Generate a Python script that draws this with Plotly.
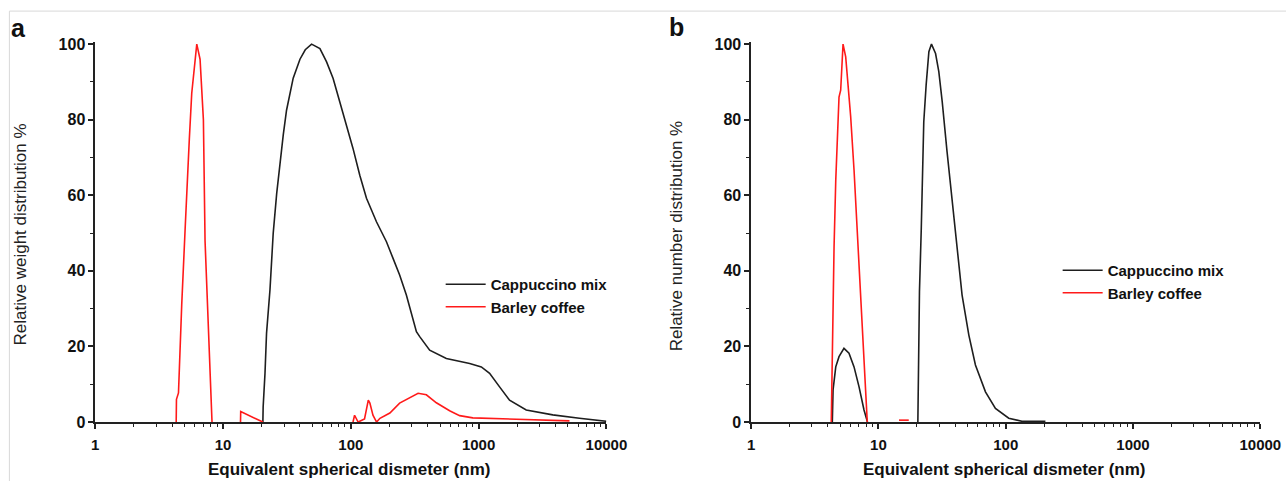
import plotly.graph_objects as go

# Figure canvas (pixels). Target positions below are given in the reference picture's
# pixel frame and mapped onto the canvas with a measured linear correction.
W, H = 1307, 490
SX, OX = 0.9825, 3.6
SY, OY = 0.9695, 5.9

# ---------------- data ----------------
# Panel a: relative weight distribution
weight_cap_x = [20.5, 20.6, 21.3, 21.9, 23.3, 24.7, 26.3, 27.9, 29.6, 31.4, 35.4, 40, 44, 49.3,
                57.3, 64.6, 72.7, 82, 92.5, 104, 117.5, 132.6, 158.7, 190, 214, 241, 272, 307,
                326, 346, 414, 559, 851, 1050, 1219, 1459, 1746, 2358, 3805, 6150, 8820, 10000]
weight_cap_y = [0, 4, 12.9, 23.5, 35, 50, 60.5, 69, 76, 82.5, 91, 96, 98.5, 100,
                98.8, 95.3, 90.9, 84.7, 78.6, 72.4, 65.3, 59.2, 53, 47.7, 43.3, 38.9, 33.6, 27.4,
                23.9, 22.6, 19, 16.8, 15.5, 14.6, 12.9, 9.3, 5.8, 3.2, 1.9, 1, 0.3, 0.2]

# None marks a stretch where the curve lies on the axis (hidden in the original)
weight_bar_x = [4.3, 4.32, 4.48, 4.61, 4.75, 5.05, 5.2, 5.45, 5.69, 6.23, 6.61, 7.02, 7.23,
                7.68, 7.92, 8.2, None, 13.7, 13.75, 20.5, None, 104, 107, 114, 128, 137, 141, 149,
                159, 169, 202, 241, 289, 336, 390, 467, 593, 711, 900, 1150, 2100, 5140]
weight_bar_y = [0, 6, 7.7, 21.7, 31, 51, 62, 75, 87, 100, 96, 80, 48,
                27, 15, 0, None, 0, 2.8, 0, None, 0, 1.8, 0, 0.8, 5.8, 5, 1.8,
                0, 1, 2.4, 5, 6.3, 7.6, 7.2, 5.1, 3.0, 1.7, 1.1, 1.0, 0.7, 0.3]

# Panel b: relative number distribution
number_cap_x = [4.34, 4.36, 4.40, 4.62, 4.90, 5.36, 5.87, 6.43, 7.04, 7.70, 8.07, 8.2, None,
                20.4, 20.6, 21.0, 21.7, 22.1, 22.7, 23.7, 24.9, 26.1, 28.1, 29.8, 31.7,
                34.6, 37.9, 41.5, 45.4, 51.3, 57.8, 69.3, 83, 105.6, 134, 205]
number_cap_y = [0, 4, 8.5, 14.6, 17.3, 19.5, 18.2, 14.6, 9.3, 3.2, 0.3, 0, None,
                0, 20, 34.5, 51.2, 67.1, 79.4, 89.2, 98, 100, 97.5, 92.7, 84.7,
                71.5, 58.3, 45, 33.6, 23, 15.1, 8, 3.6, 1, 0.2, 0.2]

number_bar_x = [4.26, 4.28, 4.34, 4.48, 4.62, 4.75, 4.90, 5.05, 5.27, 5.53, 5.80, 6.05,
                6.43, 6.82, 7.25, 7.70, 8.17, None, 14.5, 17.3]
number_bar_y = [0, 5, 16.4, 46.4, 64, 77.2, 86, 87.8, 100, 96.6, 88.7, 80.8,
                66.7, 50.8, 33.1, 15.5, 0, None, 0.5, 0.5]

x_tickvals = [1, 10, 100, 1000, 10000]
x_ticktext = ["1", "10", "100", "1000", "10000"]
x_minor = [m * 10 ** d for d in range(4) for m in range(2, 10)]
y_tickvals = [0, 20, 40, 60, 80, 100]

series_names = ["Cappuccino mix", "Barley coffee"]
colors = ["#1e1e1e", "#ff1a1a"]

# ---------------- figure ----------------
def cx(o):  # reference x pixel -> paper fraction
    return ((o - OX) / SX) / W

def cy(o):  # reference y pixel -> paper fraction
    return 1 - ((o - OY) / SY) / H

FONT = "Liberation Sans, Arial, sans-serif"
AX = "#222222"

fig = go.Figure()
fig.add_trace(go.Scatter(x=weight_cap_x, y=weight_cap_y, mode="lines", name=series_names[0],
                         line=dict(color=colors[0], width=1.6), xaxis="x", yaxis="y", legend="legend"))
fig.add_trace(go.Scatter(x=weight_bar_x, y=weight_bar_y, mode="lines", name=series_names[1],
                         line=dict(color=colors[1], width=1.6), xaxis="x", yaxis="y", legend="legend"))
fig.add_trace(go.Scatter(x=number_cap_x, y=number_cap_y, mode="lines", name=series_names[0],
                         line=dict(color=colors[0], width=1.6), xaxis="x2", yaxis="y2", legend="legend2"))
fig.add_trace(go.Scatter(x=number_bar_x, y=number_bar_y, mode="lines", name=series_names[1],
                         line=dict(color=colors[1], width=1.6), xaxis="x2", yaxis="y2", legend="legend2"))

# y: 0 at ref pixel 422, 100 at ref pixel 44; range top 100.6
ytop = 44 - 0.6 * 3.78
ydom = [cy(422), cy(ytop)]

def xaxis(dom):
    return dict(type="log", domain=dom, range=[0, 4], tickmode="array", tickvals=x_tickvals,
                ticktext=x_ticktext, showline=True, linecolor=AX, linewidth=1.5, ticks="outside",
                ticklen=5, tickwidth=1.5, tickcolor=AX, showgrid=False, zeroline=False,
                ticklabelstandoff=3,
                tickfont=dict(family=FONT, size=15, color="#111", weight=700),
                minor=dict(tickmode="array", tickvals=x_minor, ticks="outside", ticklen=3,
                           tickwidth=1, tickcolor=AX, showgrid=False))

def yaxis(anchor):
    return dict(domain=ydom, range=[0, 100.6], anchor=anchor, tickmode="array", tickvals=y_tickvals,
                showline=True, linecolor=AX, linewidth=1.5, ticks="outside", ticklen=5,
                tickwidth=1.5, tickcolor=AX, showgrid=False, zeroline=False, ticklabelstandoff=0,
                tickfont=dict(family=FONT, size=16, color="#111", weight=700),
                minor=dict(dtick=10, ticks="outside", ticklen=3, tickwidth=1, tickcolor=AX,
                           showgrid=False))

fig.update_layout(
    width=W, height=H,
    margin=dict(l=0, r=0, t=0, b=0),
    paper_bgcolor="white", plot_bgcolor="white",
    xaxis=dict(**xaxis([cx(95), cx(607)]), anchor="y"),
    yaxis=yaxis("x"),
    xaxis2=dict(**xaxis([cx(752), cx(1262)]), anchor="y2"),
    yaxis2=yaxis("x2"),
    legend=dict(x=cx(441), y=cy(268), xanchor="left", yanchor="top", bgcolor="rgba(0,0,0,0)",
                font=dict(family=FONT, size=15, color="#111", weight=700), itemwidth=40,
                tracegroupgap=0),
    legend2=dict(x=cx(1059), y=cy(254), xanchor="left", yanchor="top", bgcolor="rgba(0,0,0,0)",
                 font=dict(family=FONT, size=15, color="#111", weight=700), itemwidth=40,
                 tracegroupgap=0),
    showlegend=True,
)

def label(text, x, y, size, bold=True, angle=0, color="#111"):
    f = dict(family=FONT, size=size, color=color)
    if bold:
        f["weight"] = 700
    return dict(text=text, x=cx(x), y=cy(y), xanchor="center", yanchor="middle",
                textangle=angle, showarrow=False, xref="paper", yref="paper", font=f)

ann = [
    label("a", 18, 28, 25),
    label("b", 677, 27, 25),
    label("Relative weight distribution %", 20, 234, 17, bold=False, angle=-90, color="#222"),
    label("Relative number distribution %", 677, 236, 17, bold=False, angle=-90, color="#222"),
    label("Equivalent spherical dismeter (nm)", 349, 469, 17),
    label("Equivalent spherical dismeter (nm)", 1005, 469, 17),
]
fig.update_layout(annotations=ann)

# thin light frame lines of the original figure
fig.add_shape(type="line", xref="paper", yref="paper", x0=cx(9), x1=1, y0=cy(11), y1=cy(11),
              line=dict(color="#d8d8d8", width=1))
fig.add_shape(type="line", xref="paper", yref="paper", x0=cx(9), x1=cx(9), y0=cy(11), y1=0,
              line=dict(color="#d8d8d8", width=1))

fig.write_html("out.html")
